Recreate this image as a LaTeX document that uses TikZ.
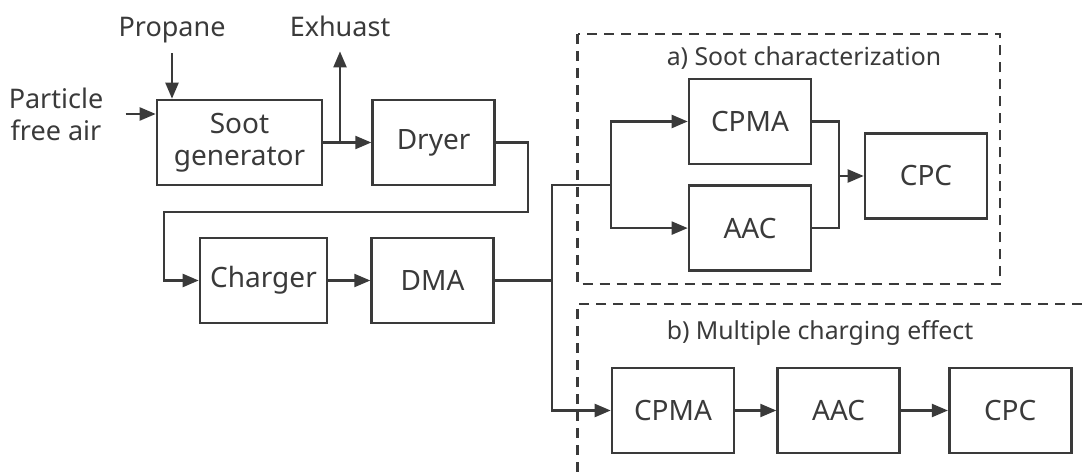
\documentclass[tikz,border=0pt]{standalone}
\usepackage{fontspec}
\setmainfont{Noto Sans}
\usepackage{xcolor}
\usepackage{tikz}
\usetikzlibrary{positioning, arrows.meta, calc}

\definecolor{ink}{HTML}{3A3A3A}

\begin{document}
\begin{tikzpicture}[
    x=0.5pt, y=-0.5pt,
    block/.style={
        rectangle,
        draw=ink,
        line width=1.3pt,
        text=ink,
        inner sep=0pt,
        align=center,
        font=\fontsize{14}{16}\selectfont,
        minimum width=61pt,
        minimum height=42.5pt
    },
    tag/.style={text=ink, align=center, inner sep=2pt, font=\fontsize{13.5}{16}\selectfont},
    word/.style={tag, anchor=base, text depth=0.25em},
    title/.style={text=ink, inner sep=0pt, font=\fontsize{12.4}{14}\selectfont},
    line/.style={draw=ink, line width=1.1pt},
    arrow/.style={line, -{Triangle[length=8pt, width=6.5pt]}},
    dashbox/.style={draw=ink, line width=1.1pt, dash pattern=on 5pt off 3.5pt}
]
\useasboundingbox (0,0) rectangle (1082,475);

% soot generation line
\node[block, minimum width=82.5pt] (soot) at (239.5,142.5) {Soot\\generator};
\node[block, right=24pt of soot] (dryer) {Dryer};
\node[block, minimum width=63.5pt] (charger) at (263.5,280.5) {Charger};
\node[block, right=21pt of charger] (dma) {DMA};

\node[tag] (air) at (56,114) {Particle\\free air};
\node[word] (propane) at (172,37) {Propane};
\node[word] (exhaust) at (340,37) {Exhuast};

% a) soot characterization
\node[block] (cpmaA) at (750,121.5) {CPMA};
\node[block, below=9.5pt of cpmaA] (aacA) {AAC};
\node[block] (cpcA) at (926,176) {CPC};
\node[title] (titleA) at (804,58) {a) Soot characterization};

% b) multiple charging
\node[block] (cpmaB) at (673,410.5) {CPMA};
\node[block, right=20.5pt of cpmaB] (aacB) {AAC};
\node[block, right=23.5pt of aacB] (cpcB) {CPC};
\node[title] (titleB) at (820,333) {b) Multiple charging effect};

\draw[dashbox] (577.5,34) rectangle (1000,284);
\draw[dashbox] (1082,304) -- (577.5,304) -- (577.5,475);

\coordinate (tap) at (340,142.5);
\coordinate (bendR) at (528,212);
\coordinate (bendL) at (164,212);
\coordinate (trunk) at (552,185);
\coordinate (fork) at (611,185);
\coordinate (join) at (839,176);

\draw[arrow, shorten <=9pt] (air.east) -- (air.east -| soot.west);
\draw[arrow, shorten <=3.5pt] (propane.south) -- (propane.south |- soot.north);
\draw[arrow, shorten >=2.5pt] (tap) -- (exhaust.south);
\draw[arrow] (soot) -- (dryer);
\draw[arrow] (dryer.east) -| (bendR) -- (bendL) |- (charger.west);
\draw[arrow] (charger) -- (dma);

\draw[line] (dma) -- (dma -| trunk);
\draw[arrow] (fork) -- (trunk) |- (cpmaB);
\draw[arrow] (fork) |- (cpmaA);
\draw[arrow] (fork) |- (aacA);
\draw[line] (cpmaA) -| (join);
\draw[line] (aacA) -| (join);
\draw[arrow] (join) -- (cpcA);

\draw[arrow] (cpmaB) -- (aacB);
\draw[arrow] (aacB) -- (cpcB);

\end{tikzpicture}
\end{document}
